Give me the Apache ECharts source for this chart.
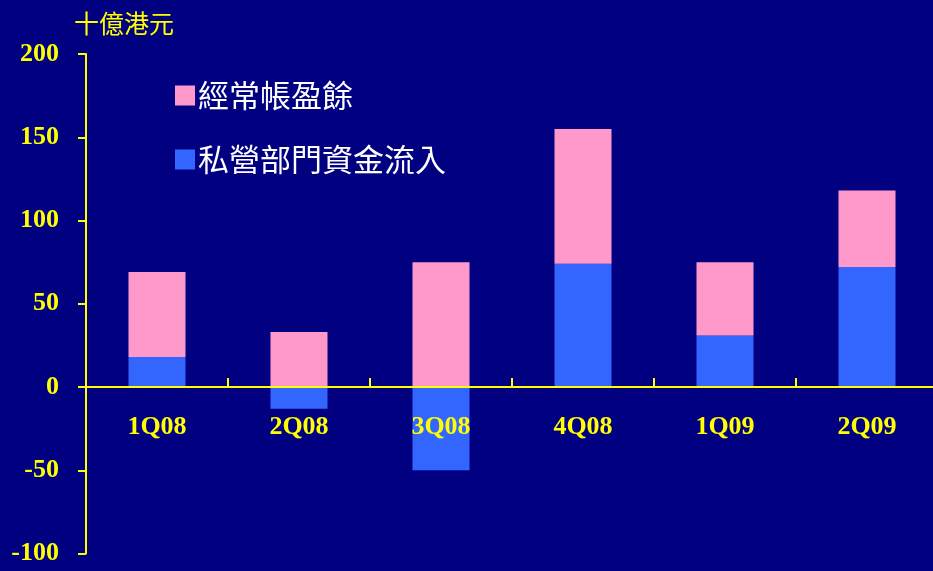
<!DOCTYPE html>
<html><head><meta charset="utf-8">
<script src="https://cdn.jsdelivr.net/npm/echarts@6/dist/echarts.min.js"></script>
<style>html,body{margin:0;padding:0;background:#000080;}#c{width:933px;height:571px;}</style>
</head><body><div id="c"></div>
<script>
const categories = ['1Q08','2Q08','3Q08','4Q08','1Q09','2Q09'];
const privateFlow = [18, -13, -50, 74, 31, 72];
const currentAccount = [51, 33, 75, 81, 44, 46];
const yTicks = [-100, -50, 0, 50, 100, 150, 200];
const unitLabel = '十億港元';
const nameCA = '經常帳盈餘';
const namePF = '私營部門資金流入';

const chart = echarts.init(document.getElementById('c'), null, {renderer:'canvas'});
const yellow = '#FFFF00';
const gridTop = 54, gridHeight = 499.5;
const yMin = yTicks[0], yMax = yTicks[yTicks.length-1];
// shift x axis up to the zero line
const zeroOffset = -gridHeight * (0 - yMin) / (yMax - yMin);
chart.setOption({
  backgroundColor: '#000080',
  animation: false,
  title: {
    text: unitLabel, left: 69, top: 6,
    textStyle: {color: yellow, fontSize: 25, fontWeight: 'normal', fontFamily: 'Noto Sans CJK TC'}
  },
  legend: {
    orient: 'vertical', left: 170, top: 75,
    itemWidth: 20, itemHeight: 20, itemGap: 33,
    icon: 'rect',
    data: [nameCA, namePF],
    textStyle: {color: '#FFFFFF', fontSize: 31, lineHeight: 31, fontFamily: 'Noto Sans CJK TC', padding: [0,0,0,-2]}
  },
  grid: {left: 86, top: gridTop, width: 852, height: gridHeight, containLabel: false, outerBoundsMode: 'none'},
  xAxis: {
    type: 'category', data: categories, position: 'bottom', offset: zeroOffset, z: 10,
    axisLine: {onZero: false, lineStyle: {color: yellow, width: 2}},
    axisTick: {show: true, inside: true, length: 9, lineStyle: {color: yellow, width: 2}},
    axisLabel: {color: yellow, fontSize: 26, fontWeight: 'bold', fontFamily: 'Liberation Serif', margin: 27}
  },
  yAxis: {
    type: 'value', min: yMin, max: yMax, interval: 50, z: 10,
    splitLine: {show: false},
    axisLine: {show: true, lineStyle: {color: yellow, width: 2}},
    axisTick: {show: true, length: 8, lineStyle: {color: yellow, width: 2}},
    axisLabel: {color: yellow, fontSize: 26, fontWeight: 'bold', fontFamily: 'Liberation Serif', margin: 27}
  },
  series: [
    {name: namePF, type: 'bar', stack: 'a', data: privateFlow, barWidth: 57, itemStyle: {color: '#3366FF'}, z: 1},
    {name: nameCA, type: 'bar', stack: 'a', data: currentAccount, barWidth: 57, itemStyle: {color: '#FF99CC'}, z: 1}
  ]
});
</script></body></html>
